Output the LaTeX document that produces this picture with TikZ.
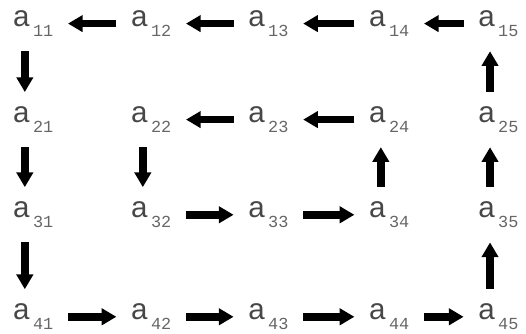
\documentclass[tikz,border=0pt]{standalone}
\usepackage{fontspec}
\setmainfont{Liberation Sans}
\newfontfamily\subfont{Liberation Mono}
\usetikzlibrary{arrows.meta}

% entry a with a lowered index
\newcommand{\entry}[1]{a\hspace{2.5pt}\raisebox{-7pt}{\subfont\fontsize{12}{12}\selectfont\color{black!60}#1}}

\begin{document}
\begin{tikzpicture}[
    % GLOBAL CFG
    font=\fontsize{21}{21}\selectfont,
    >={Triangle[length=10.5pt,width=11.5pt]},
    % Styles
    elem/.style={% For the matrix entries
        inner sep=0pt,
        text=black!72,
        },
    flow/.style={% Block arrows between entries
        ->,
        line width=5.5pt,
        shorten <=0.36cm,
        shorten >=0.36cm,
        },
    ]

    \useasboundingbox (0,0) rectangle (13.15,8.35);

    % Draw the entries named a##
    % Row 1
    \node [elem] (a11) at (0.83,7.76) {\entry{11}};
    \node [elem] (a12) at (3.78,7.76) {\entry{12}};
    \node [elem] (a13) at (6.71,7.76) {\entry{13}};
    \node [elem] (a14) at (9.73,7.76) {\entry{14}};
    \node [elem] (a15) at (12.46,7.76) {\entry{15}};
    % Row 2
    \node [elem] (a21) at (0.83,5.36) {\entry{21}};
    \node [elem] (a22) at (3.78,5.36) {\entry{22}};
    \node [elem] (a23) at (6.71,5.36) {\entry{23}};
    \node [elem] (a24) at (9.73,5.36) {\entry{24}};
    \node [elem] (a25) at (12.46,5.36) {\entry{25}};
    % Row 3
    \node [elem] (a31) at (0.83,2.98) {\entry{31}};
    \node [elem] (a32) at (3.78,2.98) {\entry{32}};
    \node [elem] (a33) at (6.71,2.98) {\entry{33}};
    \node [elem] (a34) at (9.73,2.98) {\entry{34}};
    \node [elem] (a35) at (12.46,2.98) {\entry{35}};
    % Row 4
    \node [elem] (a41) at (0.83,0.43) {\entry{41}};
    \node [elem] (a42) at (3.78,0.43) {\entry{42}};
    \node [elem] (a43) at (6.71,0.43) {\entry{43}};
    \node [elem] (a44) at (9.73,0.43) {\entry{44}};
    \node [elem] (a45) at (12.46,0.43) {\entry{45}};

    % Outer loop
    \draw [flow] (a12) -- (a11);
    \draw [flow] (a13) -- (a12);
    \draw [flow] (a14) -- (a13);
    \draw [flow] (a15) -- (a14);
    \draw [flow] ([xshift=0.3cm]a11.south west) -- ([xshift=0.3cm]a21.north west);
    \draw [flow] ([xshift=0.3cm]a21.south west) -- ([xshift=0.3cm]a31.north west);
    \draw [flow] ([xshift=0.3cm]a31.south west) -- ([xshift=0.3cm]a41.north west);
    \draw [flow] (a41) -- (a42);
    \draw [flow] (a42) -- (a43);
    \draw [flow] (a43) -- (a44);
    \draw [flow] (a44) -- (a45);
    \draw [flow] ([xshift=0.3cm]a45.north west) -- ([xshift=0.3cm]a35.south west);
    \draw [flow] ([xshift=0.3cm]a35.north west) -- ([xshift=0.3cm]a25.south west);
    \draw [flow] ([xshift=0.3cm]a25.north west) -- ([xshift=0.3cm]a15.south west);

    % Inner loop
    \draw [flow] ([xshift=0.3cm]a22.south west) -- ([xshift=0.3cm]a32.north west);
    \draw [flow] (a32) -- (a33);
    \draw [flow] (a33) -- (a34);
    \draw [flow] ([xshift=0.3cm]a34.north west) -- ([xshift=0.3cm]a24.south west);
    \draw [flow] (a24) -- (a23);
    \draw [flow] (a23) -- (a22);

\end{tikzpicture}
\end{document}
